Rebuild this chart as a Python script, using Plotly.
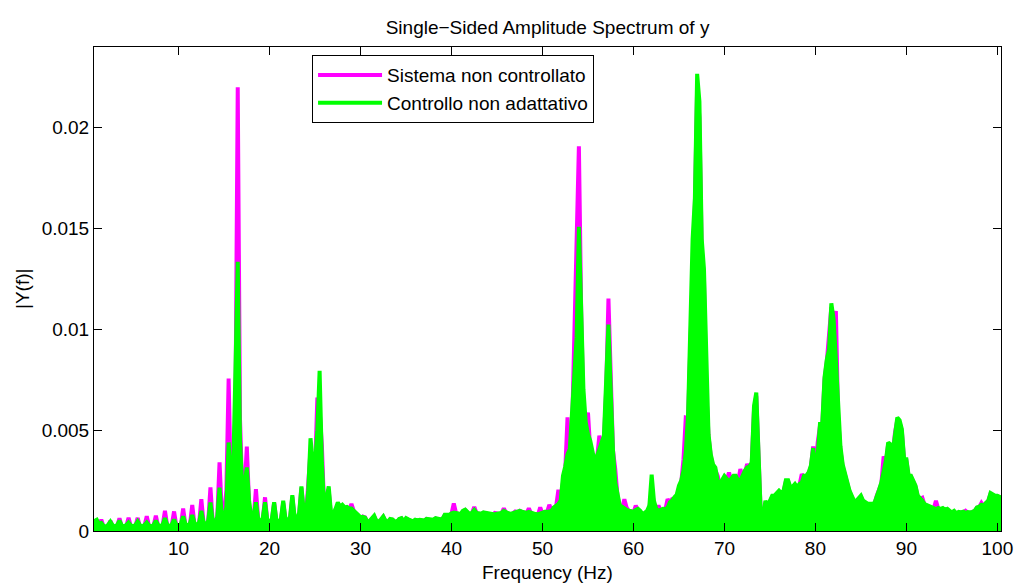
import numpy as np
import plotly.graph_objects as go

# Single-sided amplitude spectra |Y(f)|, sampled every 0.25 Hz from 0 Hz.
# Values are stored in units of 1e-5 and grouped in 10 Hz bands.
F_STEP = 0.25
UNIT = 1e-5

# --- Sistema non controllato ---
sys_00_09 = [15, 20, 25, 40,   30, 25, 56, 22,   20, 25, 51, 22,   20, 25, 63, 22,   20, 25, 66, 22,
             20, 25, 65, 22,   20, 26, 73, 24,   20, 26, 76, 24,   22, 28, 100, 26,  22, 28, 97, 26]
sys_10_19 = [22, 30, 112, 28,  24, 32, 129, 30,  24, 36, 158, 36,  28, 45, 216, 45,  32, 70, 340, 90,
             80, 200, 756, 200, 280, 600, 2200, 554, 200, 200, 419, 130, 50, 60, 208, 55, 40, 55, 167, 50]
sys_20_29 = [40, 55, 140, 50,  40, 55, 140, 55,  45, 60, 170, 65,  50, 80, 215, 90,  70, 216, 400, 300,
             300, 662, 600, 423, 110, 150, 200, 80, 80, 95, 130, 100, 120, 110, 115, 105, 134, 100, 85, 70]
sys_30_39 = [60, 72, 68, 45,   48, 58, 72, 48,   44, 55, 70, 48,   44, 55, 56, 46,   44, 58, 62, 46,
             60, 55, 48, 46,   54, 50, 54, 52,   50, 60, 56, 54,   54, 62, 58, 56,   58, 78, 78, 78]
sys_40_49 = [86, 137, 88, 86,  82, 98, 104, 92,  82, 88, 120, 88,  86, 84, 90, 88,   82, 82, 78, 89,
             84, 84, 88, 112,  90, 86, 83, 88,   97, 93, 100, 94,  90, 88, 112, 88,  84, 82, 80, 117]
sys_50_59 = [86, 93, 93, 130,  98, 115, 123, 204, 150, 240, 300, 563, 300, 500, 1000, 1371,
             1908, 1100, 600, 520, 587, 400, 380, 330, 360, 472, 430, 450, 700, 1153, 750, 400,
             307, 170, 120, 110, 158, 115, 100, 98]
sys_60_69 = [90, 126, 100, 90,  80, 88, 95, 115,  200, 140, 105, 126, 100, 105, 105, 158, 140, 158, 160, 170,
             215, 240, 356, 563, 560, 950, 1400, 1620, 2200, 2050, 1400, 1250, 700, 470, 370, 320,
             300, 274, 230, 240]
sys_70_79 = [265, 250, 290, 250, 265, 265, 245, 307, 270, 290, 332, 310, 330, 600, 670, 320, 75, 55, 140, 120,
             145, 170, 170, 185, 195, 185, 195, 245, 245, 210, 215, 228, 210, 228, 282, 265, 265, 285, 318, 419]
sys_80_89 = [300, 439, 520, 520, 750, 840, 975, 1110, 1020, 1091, 560, 400, 320, 275, 235, 195,
             170, 145, 145, 155, 170, 145, 135, 130, 130, 130, 135, 175, 200, 235, 370, 340,
             430, 420, 380, 490, 550, 540, 495, 350]
sys_90_100 = [350, 270, 270, 245, 220, 170, 160, 165, 130, 125, 120, 115, 110, 150, 110, 108,
              110, 100, 105, 98,  90, 95, 86, 92,  90, 92, 100, 90,  90, 92, 98, 115, 118, 139, 122, 138,
              148, 185, 178, 172, 172, 168, 162, 158]

# --- Controllo non adattativo ---
ctl_00_09 = [20, 25, 30, 50,   56, 35, 40, 25,   22, 30, 46, 28,   22, 30, 51, 28,   22, 30, 43, 28,
             22, 30, 48, 28,   22, 30, 43, 28,   22, 30, 51, 30,   24, 32, 64, 32,   24, 32, 56, 32]
ctl_10_19 = [25, 35, 73, 35,   26, 38, 79, 38,   28, 42, 100, 42,  30, 50, 141, 50,  35, 70, 215, 80,
             60, 120, 439, 257, 300, 802, 1335, 455, 208, 230, 315, 150, 60, 75, 142, 60, 45, 65, 142, 55]
ctl_20_29 = [45, 60, 142, 55,  45, 60, 150, 60,  50, 70, 178, 70,  55, 90, 221, 100, 80, 200, 460, 340,
             330, 500, 794, 340, 120, 160, 221, 90, 84, 110, 142, 120, 130, 117, 120, 112, 112, 100, 92, 80]
ctl_30_39 = [68, 70, 66, 46,   50, 60, 76, 50,   46, 58, 72, 50,   46, 60, 58, 48,   46, 60, 64, 48,
             64, 58, 50, 48,   56, 52, 56, 54,   52, 60, 58, 56,   56, 64, 60, 58,   60, 80, 80, 80]
ctl_40_49 = [88, 92, 90, 88,   85, 100, 106, 95, 84, 90, 104, 90,  88, 86, 92, 90,   84, 84, 80, 82,
             86, 86, 90, 100,  92, 88, 85, 90,   92, 95, 100, 96,  92, 90, 95, 90,   86, 84, 83, 88]
ctl_50_59 = [88, 95, 95, 100,  100, 117, 125, 134, 150, 274, 320, 380, 406, 600, 760, 960,
             1508, 1150, 703, 540, 480, 447, 400, 340, 373, 414, 440, 472, 786, 1024, 700, 400,
             241, 180, 126, 120, 110, 105, 101, 100]
ctl_60_69 = [95, 105, 110, 100, 84, 90, 100, 126, 279, 150, 110, 100, 105, 110, 109, 115, 142, 150, 167, 180,
             225, 250, 300, 390, 579, 1000, 1446, 1650, 2267, 2130, 1450, 1300, 800, 480, 380, 330,
             315, 250, 233, 250]
ctl_70_79 = [273, 260, 241, 260, 274, 274, 250, 250, 280, 300, 315, 320, 340, 620, 687, 330, 80, 60, 150, 125,
             150, 175, 175, 190, 200, 188, 200, 252, 252, 216, 220, 233, 216, 233, 240, 274, 274, 290, 324, 411]
ctl_80_89 = [307, 380, 530, 530, 761, 850, 900, 1129, 1050, 850, 600, 420, 330, 282, 241, 200,
             175, 150, 150, 160, 175, 150, 140, 135, 135, 135, 140, 180, 205, 241, 300, 350,
             439, 430, 390, 500, 563, 550, 505, 356]
ctl_90_100 = [356, 274, 274, 250, 225, 175, 165, 150, 134, 130, 125, 120, 114, 108, 114, 110,
              114, 105, 110, 100, 92, 100, 88, 95,  92, 96, 90, 94,   92, 95, 100, 117, 120, 130, 125, 140,
              150, 188, 180, 175, 175, 170, 165, 160]

sys_bands = [sys_00_09, sys_10_19, sys_20_29, sys_30_39, sys_40_49,
             sys_50_59, sys_60_69, sys_70_79, sys_80_89, sys_90_100]
ctl_bands = [ctl_00_09, ctl_10_19, ctl_20_29, ctl_30_39, ctl_40_49,
             ctl_50_59, ctl_60_69, ctl_70_79, ctl_80_89, ctl_90_100]

y_sys = np.concatenate([np.asarray(b, dtype=float) for b in sys_bands]) * UNIT
y_ctl = np.concatenate([np.asarray(b, dtype=float) for b in ctl_bands]) * UNIT
freq = np.arange(len(y_sys)) * F_STEP

x_ticks = [10, 20, 30, 40, 50, 60, 70, 80, 90, 100]
y_ticks = [0, 0.005, 0.01, 0.015, 0.02]
y_tick_text = ["0", "0.005", "0.01", "0.015", "0.02"]

MAGENTA = "#FF00FF"
GREEN = "#00FF00"
FONT = "Liberation Sans, Arial, Helvetica, sans-serif"
LINE_W = 4

fig = go.Figure()
for name, y, color in [("Sistema non controllato", y_sys, MAGENTA),
                       ("Controllo non adattativo", y_ctl, GREEN)]:
    # solid area under the dense spectrum line
    fig.add_trace(go.Scatter(
        x=freq, y=y, mode="lines", line=dict(color=color, width=0),
        fill="tozeroy", fillcolor=color, showlegend=False, hoverinfo="skip",
    ))
    # the spectrum line itself (also used for the legend entry)
    fig.add_trace(go.Scatter(
        x=freq, y=y, name=name, mode="lines", line=dict(color=color, width=LINE_W),
    ))

axis_common = dict(
    showgrid=False, zeroline=False, showline=True, linecolor="black", linewidth=1,
    mirror="ticks", ticks="inside", ticklen=8, tickcolor="black", tickwidth=1,
    tickfont=dict(family=FONT, size=19, color="black"), automargin=False,
)
fig.update_xaxes(range=[0.7, 100.4], tickvals=x_ticks, **axis_common)
fig.update_yaxes(range=[0, 0.024], tickvals=y_ticks, ticktext=y_tick_text, **axis_common)

fig.update_layout(
    width=1014, height=583,
    margin=dict(l=94, r=13, t=47, b=52, pad=0, autoexpand=False),
    paper_bgcolor="white", plot_bgcolor="white",
    font=dict(family=FONT, size=19, color="black"),
    title=dict(text="Single−Sided Amplitude Spectrum of y", x=0.54, xanchor="center",
               y=1 - 27 / 583, yanchor="middle", font=dict(family=FONT, size=19, color="black")),
    showlegend=True,
    legend=dict(x=0.2404, y=0.983, xanchor="left", yanchor="top",
                bgcolor="white", bordercolor="black", borderwidth=1,
                font=dict(family=FONT, size=19, color="black"), itemwidth=64,
                traceorder="normal"),
    annotations=[
        dict(text="Frequency (Hz)", xref="paper", yref="paper", x=0.5, y=-0.0858,
             xanchor="center", yanchor="middle", showarrow=False,
             font=dict(family=FONT, size=19, color="black")),
        dict(text="|Y(f)|", xref="paper", yref="paper", x=-0.0794, y=0.5,
             xanchor="center", yanchor="middle", showarrow=False, textangle=-90,
             font=dict(family=FONT, size=19, color="black")),
    ],
)

fig.write_html("out.html")
